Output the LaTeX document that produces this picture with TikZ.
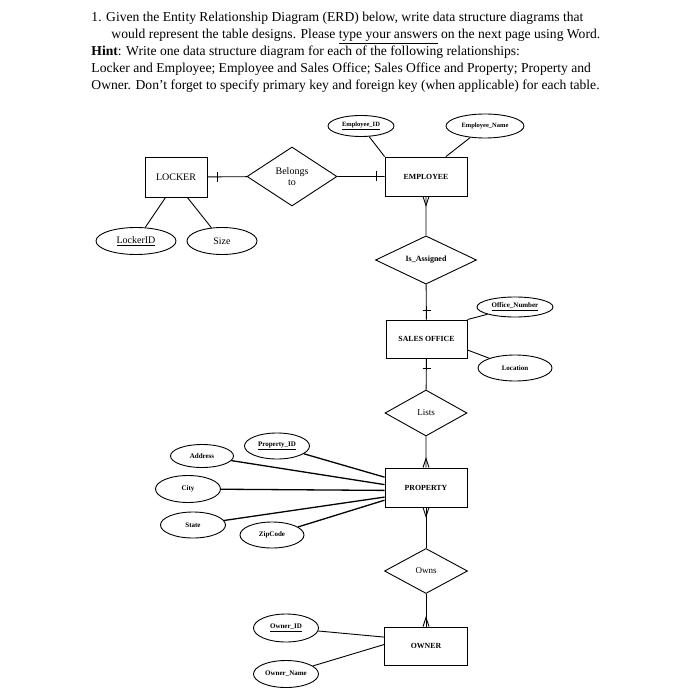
\documentclass[tikz,border=0pt]{standalone}
\usepackage{fontspec}
\setmainfont{Liberation Serif}
\usetikzlibrary{shapes.geometric}

\begin{document}
\begin{tikzpicture}[x=1pt,y=-1pt,line width=0.9pt,
	entity/.style={draw,rectangle,minimum width=82pt,minimum height=39pt,inner sep=0pt,font=\fontsize{7.8}{9}\selectfont\bfseries},
	relation/.style={draw,diamond,inner sep=0pt,font=\fontsize{8}{9}\selectfont\bfseries},
	attrib/.style={draw,ellipse,inner sep=0pt,font=\fontsize{7}{8}\selectfont\bfseries},
	bigtext/.style={font=\fontsize{10}{11}\selectfont,align=center},
	textline/.style={anchor=base west,inner sep=0pt,font=\fontsize{13.6}{16}\selectfont}]
					\useasboundingbox (0,0) rectangle (684,700);

					% question text
					\node[textline] (q1) at (91,22) {1. Given the Entity Relationship Diagram (ERD) below, write data structure diagrams that};
					\node[textline] (q2) at (111,39) {would represent the table designs. Please \underline{type your answers} on the next page using Word.};
					\node[textline] (q3) at (91,56) {\textbf{Hint}: Write one data structure diagram for each of the following relationships:};
					\node[textline] (q4) at (91,73) {Locker and Employee; Employee and Sales Office; Sales Office and Property; Property and};
					\node[textline] (q5) at (91,90) {Owner. Don't forget to specify primary key and foreign key (when applicable) for each table.};

					% locker and employee
					\node[entity,bigtext,font=\fontsize{10}{11}\selectfont,minimum width=62pt,minimum height=40pt] (lock) at (176,177) {LOCKER};
					\node[relation,bigtext,font=\fontsize{10}{11}\selectfont,minimum width=90pt,minimum height=59pt] (belong) at (292,176.5) {Belongs\\to};
					\node[entity] (emp) at (426,176.5) {EMPLOYEE};
					\node[attrib,bigtext,font=\fontsize{10}{11}\selectfont,minimum width=80pt,minimum height=27pt] (lockid) at (136,241) {\underline{LockerID}};
					\node[attrib,bigtext,font=\fontsize{10}{11}\selectfont,minimum width=70pt,minimum height=27pt] (size) at (222,241) {Size};
					\node[attrib,font=\fontsize{6.5}{8}\selectfont\bfseries,minimum width=66pt,minimum height=21pt] (empid) at (361,126) {\underline{Employee\_ID}};
					\node[attrib,font=\fontsize{6.5}{8}\selectfont\bfseries,minimum width=78pt,minimum height=24pt] (empname) at (485,126) {Employee\_Name};

					\draw (lock) -- (belong) -- (emp);
					\draw ([xshift=10pt]lock.east) ++(0,-5) -- ++(0,10);
					\draw ([xshift=-8pt]emp.west) ++(0,-5) -- ++(0,10);
					\draw (lock.243) -- (lockid);
					\draw (lock.-61) -- (size);
					\draw (empid) -- (emp.north west);
					\draw (empname) -- (emp.45);

					% sales office
					\node[relation,minimum width=101pt,minimum height=46pt] (assign) at (426,260) {Is\_Assigned};
					\node[entity,minimum width=81pt,minimum height=38pt] (sales) at (426.5,339) {SALES OFFICE};
					\node[attrib,minimum width=76pt,minimum height=20pt] (offnum) at (515,307) {\underline{Office\_Number}};
					\node[attrib,minimum width=74pt,minimum height=26pt] (loc) at (515,368) {Location};

					\draw (emp) -- (assign) -- (sales);
					\draw ([xshift=-3pt]emp.south) -- ([yshift=-9pt]emp.south) -- ([xshift=3pt]emp.south);
					\draw ([yshift=9pt]sales.north) ++(-4,0) -- ++(8,0);
					\draw ([yshift=-10pt]sales.south) ++(-4,0) -- ++(8,0);
					\draw (sales.north east) -- (offnum);
					\draw (sales.-15) -- (loc);

					% property
					\node[relation,font=\fontsize{9}{10}\selectfont,minimum width=82pt,minimum height=46pt] (lists) at (426,413) {Lists};
					\node[entity] (prop) at (426,487.5) {PROPERTY};
					\node[attrib,minimum width=65pt,minimum height=26pt] (propid) at (277,446) {\underline{Property\_ID}};
					\node[attrib,minimum width=63pt,minimum height=23pt] (addr) at (202,456) {Address};
					\node[attrib,minimum width=65pt,minimum height=27pt] (city) at (188,489) {City};
					\node[attrib,minimum width=65pt,minimum height=26pt] (state) at (193,525) {State};
					\node[attrib,minimum width=64pt,minimum height=26pt] (zip) at (272,535) {ZipCode};

					\draw (sales) -- (lists) -- (prop);
					\draw ([xshift=-3pt]prop.north) -- ([yshift=9pt]prop.north) -- ([xshift=3pt]prop.north);
					\draw[line width=1.3pt] (prop.166) -- (propid);
					\draw[line width=1.3pt] (prop.176) -- (addr);
					\draw[line width=1.3pt] (prop.184) -- (city);
					\draw[line width=1.3pt] (prop.193) -- (state);
					\draw[line width=1.3pt] (prop.197) -- (zip);

					% owner
					\node[relation,font=\fontsize{9}{10}\selectfont,minimum width=83pt,minimum height=45pt] (owns) at (426,571) {Owns};
					\node[entity,minimum width=83pt,minimum height=38pt] (owner) at (426,646) {OWNER};
					\node[attrib,minimum width=65pt,minimum height=28pt] (ownid) at (286,628) {\underline{Owner\_ID}};
					\node[attrib,minimum width=65pt,minimum height=27pt] (ownname) at (286,674) {Owner\_Name};

					\draw (prop) -- (owns) -- (owner);
					\draw ([xshift=-3pt]prop.south) -- ([yshift=-9pt]prop.south) -- ([xshift=3pt]prop.south);
					\draw ([xshift=-3pt]owner.north) -- ([yshift=9pt]owner.north) -- ([xshift=3pt]owner.north);
					\draw (owner.168) -- (ownid);
					\draw (owner.178) -- (ownname);
				\end{tikzpicture}
\end{document}
